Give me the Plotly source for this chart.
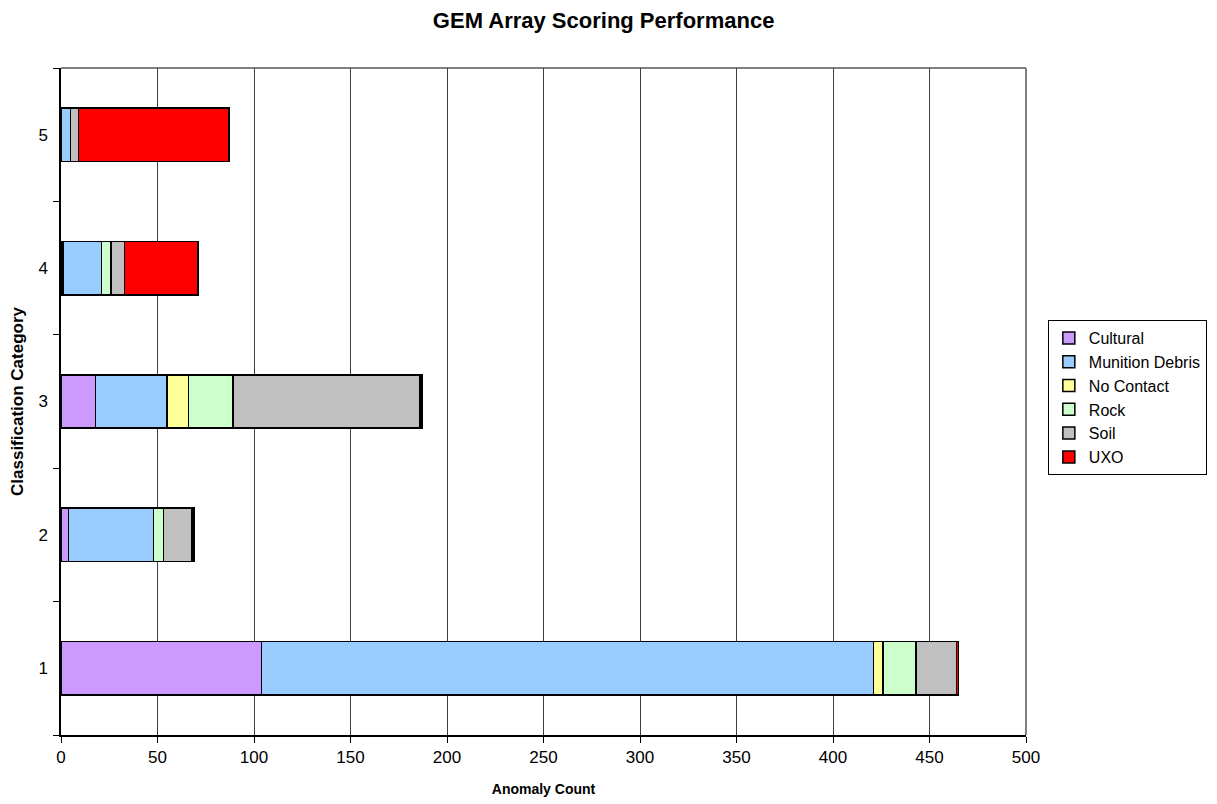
import plotly.graph_objects as go

# Classification categories (y axis) and anomaly counts per ground-truth class
categories = ["1", "2", "3", "4", "5"]

cultural = [104, 4, 18, 1, 0]
munition_debris = [317, 44, 37, 20, 5]
no_contact = [5, 0, 11, 0, 0]
rock = [17, 5, 23, 5, 0]
soil = [21, 15, 97, 7, 4]
uxo = [1, 1, 1, 38, 78]

series = [
    ("Cultural", cultural, "#CC99FF"),
    ("Munition Debris", munition_debris, "#99CCFF"),
    ("No Contact", no_contact, "#FFFF99"),
    ("Rock", rock, "#CCFFCC"),
    ("Soil", soil, "#C0C0C0"),
    ("UXO", uxo, "#FF0000"),
]

x_ticks = list(range(0, 501, 50))

FONT = "Liberation Sans, Arial, sans-serif"

fig = go.Figure()
for name, values, color in series:
    fig.add_trace(go.Bar(
        name=name,
        y=categories,
        x=values,
        orientation="h",
        marker=dict(color=color, line=dict(color="black", width=1.5)),
    ))

fig.update_layout(
    width=1217,
    height=804,
    barmode="stack",
    bargap=0.6,
    plot_bgcolor="white",
    paper_bgcolor="white",
    margin=dict(l=61, r=191, t=68, b=69, autoexpand=False),
    font=dict(family=FONT, size=17, color="black"),
    title=dict(
        text="<b>GEM Array Scoring Performance</b>",
        x=0.496, xref="container", xanchor="center",
        y=0.975, yanchor="middle",
        font=dict(family=FONT, size=22, color="black"),
    ),
    legend=dict(
        xref="container", yref="container",
        x=0.861, y=0.602, xanchor="left", yanchor="top",
        bordercolor="black", borderwidth=1,
        font=dict(family=FONT, size=16, color="black"),
        traceorder="normal",
        itemwidth=30,
        tracegroupgap=0,
    ),
    showlegend=True,
)

fig.update_xaxes(
    range=[0, 500],
    tickvals=x_ticks,
    ticktext=[str(v) for v in x_ticks],
    showgrid=True,
    gridcolor="#404040",
    gridwidth=1,
    zeroline=False,
    showline=True,
    linecolor="black",
    linewidth=1.5,
    ticks="outside",
    ticklen=6,
    tickcolor="black",
    tickfont=dict(family=FONT, size=17),
    title=dict(text="<b>Anomaly Count</b>", font=dict(family=FONT, size=14), standoff=18),
)

fig.update_yaxes(
    type="category",
    categoryorder="array",
    categoryarray=categories,
    range=[-0.5, 4.5],
    tickson="boundaries",
    showgrid=False,
    zeroline=False,
    showline=True,
    linecolor="black",
    linewidth=1.5,
    ticks="outside",
    ticklen=6,
    tickcolor="black",
    tickfont=dict(family=FONT, size=17),
    ticklabelstandoff=8,
    title=dict(text="<b>Classification Category</b>", font=dict(family=FONT, size=17), standoff=10),
)

# Gray frame along the top and right edges of the plotting area
fig.add_shape(type="line", xref="paper", yref="paper", x0=0, x1=1, y0=1, y1=1,
              line=dict(color="#808080", width=2), layer="below")
fig.add_shape(type="line", xref="paper", yref="paper", x0=1, x1=1, y0=0, y1=1,
              line=dict(color="#808080", width=2), layer="below")

fig.write_html("out.html")
